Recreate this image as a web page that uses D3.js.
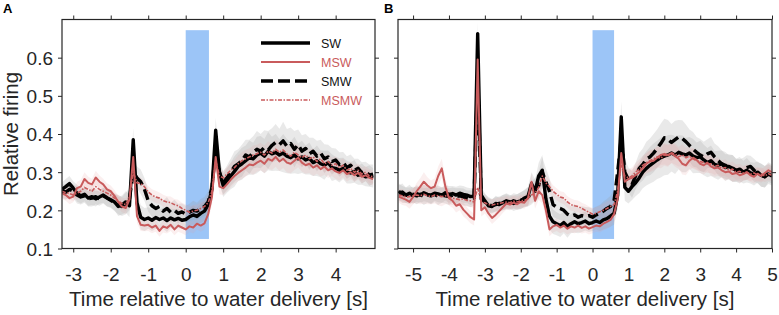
<!DOCTYPE html>
<html>
<head>
<meta charset="utf-8">
<script src="https://cdn.jsdelivr.net/npm/d3@7"></script>
<style>
  body { margin: 0; background: #fff; }
  text { font-family: "Liberation Sans", Arial, sans-serif; }
</style>
</head>
<body>
<svg id="chart"></svg>
<script>
let width = 779;
let height = 315;
let red = "#c95b5c";
let ink = "#262626";

// time grids (s), 0.1 s bins
let timeA = d3.range(-33, 51).map(d => d / 10);
let timeB = d3.range(-54, 51).map(d => d / 10);

let legendNames = ["SW", "MSW", "SMW", "MSMW"];
let ticksA = [-3, -2, -1, 0, 1, 2, 3, 4];
let ticksB = [-5, -4, -3, -2, -1, 0, 1, 2, 3, 4, 5];
let ticksY = [0.1, 0.2, 0.3, 0.4, 0.5, 0.6];
let waterA = [0, 0.62];
let waterB = [0, 0.6];
let waterY = [0.125, 0.672];

// panel A
let swA = [0.255, 0.262, 0.270, 0.258,
  0.245, 0.238, 0.242, 0.232, 0.236, 0.230, 0.235, 0.240, 0.233, 0.228,
  0.222, 0.210, 0.214, 0.222, 0.212, 0.385, 0.220, 0.182, 0.176, 0.180,
  0.174, 0.181, 0.176, 0.180, 0.173, 0.180, 0.175, 0.179, 0.174, 0.176,
  0.183, 0.188, 0.184, 0.192, 0.198, 0.215, 0.255, 0.410, 0.300, 0.265,
  0.278, 0.290, 0.302, 0.315, 0.322, 0.330, 0.338, 0.335, 0.345, 0.350,
  0.342, 0.355, 0.348, 0.352, 0.345, 0.350, 0.342, 0.338, 0.345, 0.335,
  0.340, 0.332, 0.336, 0.325, 0.330, 0.322, 0.318, 0.325, 0.312, 0.310,
  0.305, 0.310, 0.300, 0.298, 0.302, 0.292, 0.295, 0.288, 0.290, 0.285];
let smwA = [0.250, 0.248, 0.255, 0.250,
  0.240, 0.235, 0.238, 0.230, 0.232, 0.236, 0.230, 0.238, 0.232, 0.226,
  0.220, 0.215, 0.210, 0.218, 0.230, 0.300, 0.285, 0.275, 0.255, 0.225,
  0.212, 0.205, 0.210, 0.198, 0.205, 0.195, 0.200, 0.192, 0.196, 0.190,
  0.195, 0.200, 0.198, 0.205, 0.210, 0.222, 0.260, 0.360, 0.300, 0.272,
  0.285, 0.300, 0.315, 0.322, 0.330, 0.345, 0.340, 0.352, 0.360, 0.355,
  0.365, 0.358, 0.370, 0.378, 0.372, 0.382, 0.368, 0.375, 0.360, 0.372,
  0.355, 0.362, 0.348, 0.355, 0.342, 0.350, 0.335, 0.340, 0.328, 0.332,
  0.320, 0.325, 0.312, 0.318, 0.305, 0.310, 0.298, 0.302, 0.292, 0.295];
let mswA = [0.245, 0.240, 0.232, 0.236,
  0.258, 0.262, 0.282, 0.272, 0.268, 0.286, 0.275, 0.268, 0.255, 0.250,
  0.238, 0.222, 0.210, 0.206, 0.228, 0.340, 0.185, 0.162, 0.160, 0.162,
  0.155, 0.160, 0.146, 0.158, 0.154, 0.162, 0.150, 0.160, 0.155, 0.150,
  0.158, 0.155, 0.165, 0.160, 0.166, 0.190, 0.235, 0.340, 0.262, 0.258,
  0.268, 0.280, 0.290, 0.298, 0.305, 0.312, 0.320, 0.318, 0.325, 0.330,
  0.322, 0.335, 0.330, 0.340, 0.328, 0.335, 0.325, 0.322, 0.330, 0.338,
  0.325, 0.318, 0.322, 0.312, 0.318, 0.308, 0.315, 0.305, 0.310, 0.302,
  0.298, 0.305, 0.295, 0.300, 0.292, 0.298, 0.288, 0.292, 0.285, 0.282];
let msmwA = [0.250, 0.246, 0.244, 0.240,
  0.245, 0.250, 0.260, 0.255, 0.250, 0.262, 0.255, 0.250, 0.245, 0.240,
  0.232, 0.225, 0.218, 0.215, 0.235, 0.300, 0.272, 0.270, 0.262, 0.248,
  0.240, 0.235, 0.232, 0.225, 0.222, 0.220, 0.215, 0.212, 0.205, 0.200,
  0.195, 0.198, 0.200, 0.205, 0.210, 0.220, 0.250, 0.330, 0.290, 0.285,
  0.295, 0.305, 0.312, 0.322, 0.330, 0.335, 0.340, 0.345, 0.348, 0.352,
  0.345, 0.355, 0.350, 0.360, 0.352, 0.358, 0.348, 0.342, 0.352, 0.345,
  0.338, 0.345, 0.335, 0.340, 0.328, 0.335, 0.322, 0.328, 0.318, 0.322,
  0.312, 0.318, 0.305, 0.310, 0.300, 0.305, 0.295, 0.300, 0.290, 0.288];
let semGrayA = [0.018, 0.020, 0.020, 0.018,
  0.022, 0.020, 0.018, 0.020, 0.022, 0.020, 0.018, 0.020, 0.022, 0.020,
  0.022, 0.025, 0.025, 0.028, 0.030, 0.030, 0.030, 0.032, 0.030, 0.028,
  0.028, 0.030, 0.025, 0.028, 0.030, 0.025, 0.028, 0.025, 0.022, 0.022,
  0.022, 0.025, 0.022, 0.025, 0.025, 0.028, 0.030, 0.032, 0.030, 0.030,
  0.032, 0.035, 0.040, 0.038, 0.042, 0.040, 0.045, 0.042, 0.048, 0.045,
  0.045, 0.050, 0.045, 0.048, 0.042, 0.050, 0.045, 0.042, 0.048, 0.040,
  0.042, 0.038, 0.042, 0.035, 0.040, 0.035, 0.038, 0.032, 0.035, 0.030,
  0.032, 0.028, 0.030, 0.028, 0.030, 0.025, 0.028, 0.025, 0.028, 0.025];
let semPinkA = [0.015, 0.015, 0.016, 0.015,
  0.016, 0.018, 0.018, 0.016, 0.015, 0.018, 0.016, 0.015, 0.016, 0.015,
  0.015, 0.016, 0.015, 0.016, 0.018, 0.020, 0.018, 0.016, 0.015, 0.016,
  0.015, 0.016, 0.015, 0.016, 0.015, 0.016, 0.015, 0.016, 0.015, 0.015,
  0.015, 0.016, 0.015, 0.016, 0.016, 0.018, 0.020, 0.022, 0.020, 0.018,
  0.018, 0.020, 0.020, 0.022, 0.022, 0.024, 0.022, 0.025, 0.024, 0.025,
  0.025, 0.026, 0.024, 0.026, 0.025, 0.024, 0.026, 0.025, 0.024, 0.025,
  0.024, 0.022, 0.024, 0.022, 0.022, 0.020, 0.022, 0.020, 0.020, 0.020,
  0.020, 0.018, 0.020, 0.018, 0.018, 0.018, 0.018, 0.016, 0.018, 0.016];

// panel B
let swB = [0.250, 0.242, 0.240, 0.245, 0.238,
  0.244, 0.240, 0.246, 0.242, 0.240, 0.245, 0.243, 0.240, 0.246, 0.242,
  0.244, 0.240, 0.245, 0.242, 0.240, 0.236, 0.238, 0.663, 0.240, 0.225,
  0.212, 0.210, 0.218, 0.215, 0.220, 0.225, 0.222, 0.218, 0.222, 0.225,
  0.232, 0.236, 0.270, 0.250, 0.290, 0.305, 0.230, 0.185, 0.170, 0.165,
  0.160, 0.168, 0.158, 0.165, 0.170, 0.165, 0.168, 0.172, 0.165, 0.168,
  0.172, 0.168, 0.175, 0.178, 0.185, 0.192, 0.240, 0.445, 0.260, 0.250,
  0.262, 0.272, 0.285, 0.300, 0.310, 0.318, 0.325, 0.332, 0.338, 0.342,
  0.345, 0.350, 0.345, 0.352, 0.348, 0.345, 0.350, 0.342, 0.338, 0.340,
  0.332, 0.325, 0.330, 0.320, 0.318, 0.322, 0.312, 0.315, 0.310, 0.305,
  0.308, 0.300, 0.305, 0.298, 0.295, 0.300, 0.292, 0.288, 0.295, 0.290];
let smwB = [0.245, 0.248, 0.240, 0.238, 0.242,
  0.238, 0.242, 0.236, 0.240, 0.238, 0.242, 0.236, 0.240, 0.238, 0.236,
  0.240, 0.236, 0.238, 0.235, 0.232, 0.230, 0.232, 0.550, 0.230, 0.222,
  0.215, 0.212, 0.215, 0.218, 0.220, 0.222, 0.220, 0.225, 0.222, 0.226,
  0.230, 0.235, 0.245, 0.255, 0.265, 0.300, 0.275, 0.250, 0.215, 0.208,
  0.205, 0.200, 0.190, 0.185, 0.188, 0.182, 0.186, 0.184, 0.186, 0.182,
  0.188, 0.192, 0.198, 0.205, 0.210, 0.225, 0.300, 0.390, 0.300, 0.280,
  0.268, 0.290, 0.310, 0.320, 0.335, 0.340, 0.350, 0.362, 0.375, 0.390,
  0.385, 0.378, 0.385, 0.392, 0.388, 0.380, 0.370, 0.360, 0.352, 0.345,
  0.340, 0.348, 0.352, 0.340, 0.330, 0.322, 0.318, 0.312, 0.310, 0.305,
  0.302, 0.308, 0.312, 0.315, 0.305, 0.298, 0.292, 0.288, 0.300, 0.295];
let mswB = [0.236, 0.232, 0.228, 0.222, 0.235,
  0.250, 0.262, 0.275, 0.265, 0.258, 0.262, 0.290, 0.310, 0.262, 0.232,
  0.225, 0.212, 0.216, 0.202, 0.192, 0.182, 0.176, 0.595, 0.200, 0.208,
  0.192, 0.180, 0.188, 0.198, 0.208, 0.218, 0.215, 0.220, 0.216, 0.222,
  0.220, 0.232, 0.275, 0.225, 0.250, 0.240, 0.200, 0.150, 0.158, 0.162,
  0.155, 0.160, 0.152, 0.158, 0.155, 0.160, 0.154, 0.158, 0.152, 0.156,
  0.160, 0.158, 0.165, 0.170, 0.175, 0.190, 0.230, 0.350, 0.275, 0.282,
  0.285, 0.292, 0.300, 0.310, 0.322, 0.328, 0.330, 0.338, 0.345, 0.348,
  0.345, 0.350, 0.342, 0.335, 0.322, 0.318, 0.330, 0.338, 0.332, 0.322,
  0.318, 0.325, 0.315, 0.310, 0.312, 0.305, 0.300, 0.302, 0.295, 0.298,
  0.292, 0.295, 0.300, 0.292, 0.288, 0.296, 0.290, 0.298, 0.305, 0.300];
let msmwB = [0.240, 0.238, 0.235, 0.236, 0.238,
  0.240, 0.238, 0.242, 0.238, 0.236, 0.240, 0.238, 0.236, 0.238, 0.235,
  0.232, 0.230, 0.228, 0.230, 0.226, 0.225, 0.222, 0.260, 0.222, 0.220,
  0.215, 0.214, 0.216, 0.218, 0.220, 0.222, 0.220, 0.224, 0.222, 0.225,
  0.226, 0.230, 0.240, 0.245, 0.260, 0.290, 0.272, 0.262, 0.250, 0.242,
  0.235, 0.232, 0.222, 0.215, 0.212, 0.210, 0.205, 0.200, 0.195, 0.190,
  0.192, 0.196, 0.200, 0.205, 0.210, 0.215, 0.250, 0.320, 0.290, 0.285,
  0.290, 0.300, 0.308, 0.318, 0.325, 0.330, 0.335, 0.340, 0.336, 0.345,
  0.342, 0.350, 0.348, 0.340, 0.345, 0.338, 0.342, 0.335, 0.330, 0.328,
  0.325, 0.320, 0.322, 0.315, 0.318, 0.310, 0.312, 0.305, 0.308, 0.300,
  0.302, 0.298, 0.300, 0.295, 0.298, 0.292, 0.295, 0.290, 0.296, 0.292];
let semGrayB = [0.020, 0.022, 0.020, 0.022, 0.020,
  0.022, 0.020, 0.022, 0.020, 0.022, 0.020, 0.022, 0.020, 0.020, 0.022,
  0.020, 0.022, 0.020, 0.022, 0.020, 0.022, 0.020, 0.030, 0.022, 0.020,
  0.020, 0.018, 0.020, 0.018, 0.020, 0.020, 0.018, 0.020, 0.020, 0.022,
  0.022, 0.025, 0.030, 0.030, 0.035, 0.040, 0.035, 0.035, 0.032, 0.030,
  0.030, 0.028, 0.030, 0.025, 0.028, 0.025, 0.025, 0.025, 0.022, 0.022,
  0.022, 0.022, 0.025, 0.025, 0.028, 0.030, 0.035, 0.040, 0.035, 0.032,
  0.035, 0.035, 0.040, 0.042, 0.045, 0.048, 0.050, 0.050, 0.052, 0.050,
  0.052, 0.048, 0.050, 0.045, 0.048, 0.045, 0.042, 0.045, 0.040, 0.042,
  0.040, 0.038, 0.040, 0.035, 0.038, 0.035, 0.035, 0.032, 0.035, 0.030,
  0.032, 0.030, 0.032, 0.028, 0.030, 0.028, 0.030, 0.028, 0.026, 0.025];
let semPinkB = [0.016, 0.018, 0.016, 0.018, 0.020,
  0.022, 0.022, 0.025, 0.022, 0.020, 0.022, 0.025, 0.025, 0.022, 0.020,
  0.018, 0.018, 0.016, 0.018, 0.016, 0.016, 0.016, 0.020, 0.016, 0.016,
  0.015, 0.016, 0.015, 0.016, 0.015, 0.016, 0.015, 0.016, 0.015, 0.016,
  0.016, 0.018, 0.020, 0.020, 0.022, 0.022, 0.020, 0.018, 0.016, 0.016,
  0.015, 0.016, 0.015, 0.016, 0.015, 0.016, 0.015, 0.016, 0.015, 0.016,
  0.016, 0.016, 0.018, 0.018, 0.018, 0.020, 0.022, 0.025, 0.022, 0.022,
  0.022, 0.024, 0.025, 0.025, 0.026, 0.028, 0.026, 0.028, 0.026, 0.028,
  0.028, 0.026, 0.028, 0.026, 0.028, 0.026, 0.025, 0.026, 0.025, 0.024,
  0.024, 0.022, 0.024, 0.022, 0.022, 0.020, 0.022, 0.020, 0.020, 0.020,
  0.020, 0.018, 0.020, 0.018, 0.018, 0.018, 0.018, 0.016, 0.018, 0.016];

let styles = {
  SW:   { color: "#000", width: 3.4, dash: null },
  MSW:  { color: red, width: 2, dash: null },
  SMW:  { color: "#000", width: 3.4, dash: "11,5" },
  MSMW: { color: red, width: 1.6, dash: "4,1.5,1.5,1.5" }
};

let yax = d3.scaleLinear()
  .domain([0.1, 0.7])
  .range([248.5, 19.5]);

let svg = d3.select("#chart")
  .attr("width", width)
  .attr("height", height);

drawPanel({
  id: "A", label: "A", labelX: 3, time: timeA,
  domain: [-3.3, 5.05], range: [62, 375], ticks: ticksA, water: waterA, yLabels: true,
  series: { SW: swA, MSW: mswA, SMW: smwA, MSMW: msmwA },
  gray: semGrayA, pink: semPinkA
});
drawPanel({
  id: "B", label: "B", labelX: 384, time: timeB,
  domain: [-5.42, 5.0], range: [398, 772], ticks: ticksB, water: waterB, yLabels: false,
  series: { SW: swB, MSW: mswB, SMW: smwB, MSMW: msmwB },
  gray: semGrayB, pink: semPinkB
});
drawLegend();

function drawPanel(p) {
  let xax = d3.scaleLinear().domain(p.domain).range(p.range);
  let g = svg.append("g");
  let [x0, x1] = p.range;
  let [yb, yt] = yax.range();

  g.append("defs").append("clipPath")
    .attr("id", "clip" + p.id)
    .append("rect")
    .attr("x", x0).attr("y", yt)
    .attr("width", x1 - x0).attr("height", yb - yt);

  let plot = g.append("g").attr("clip-path", `url(#clip${p.id})`);

  // water delivery window
  plot.append("rect")
    .attr("x", xax(p.water[0]))
    .attr("width", xax(p.water[1]) - xax(p.water[0]))
    .attr("y", yax(waterY[1]))
    .attr("height", yax(waterY[0]) - yax(waterY[1]))
    .attr("fill", "#9cc5f7");

  // sem bands
  let bandOf = (vals, sem) => d3.area()
    .x((d, i) => xax(p.time[i]))
    .y0((d, i) => yax(d - sem[i]))
    .y1((d, i) => yax(d + sem[i]))(vals);

  ["SW", "SMW"].forEach(k => {
    plot.append("path")
      .attr("d", bandOf(p.series[k], p.gray))
      .attr("fill", "#9a9a9a")
      .attr("fill-opacity", 0.22);
  });
  ["MSW", "MSMW"].forEach(k => {
    plot.append("path")
      .attr("d", bandOf(p.series[k], p.pink))
      .attr("fill", "#e59a9a")
      .attr("fill-opacity", 0.16);
  });

  let line = d3.line()
    .x((d, i) => xax(p.time[i]))
    .y(d => yax(d));

  ["SW", "SMW", "MSW", "MSMW"].forEach(k => {
    let s = styles[k];
    plot.append("path")
      .attr("d", line(p.series[k]))
      .attr("fill", "none")
      .attr("stroke", s.color)
      .attr("stroke-width", s.width)
      .attr("stroke-dasharray", s.dash)
      .attr("stroke-linejoin", "round");
  });

  // axes, MATLAB style box with outward ticks
  let fmt = d => String(d);
  let bottom = g.append("g")
    .attr("transform", `translate(0, ${yb})`)
    .call(d3.axisBottom(xax).tickValues(p.ticks).tickSize(4).tickPadding(15).tickFormat(fmt));
  g.append("g")
    .attr("transform", `translate(0, ${yt})`)
    .call(d3.axisTop(xax).tickValues(p.ticks).tickSize(4).tickFormat(""));
  let left = g.append("g")
    .attr("transform", `translate(${x0}, 0)`)
    .call(d3.axisLeft(yax).tickValues(ticksY).tickSize(4).tickPadding(5)
      .tickFormat(p.yLabels ? d3.format(".1f") : ""));
  g.append("g")
    .attr("transform", `translate(${x1}, 0)`)
    .call(d3.axisRight(yax).tickValues(ticksY.slice(1)).tickSize(4).tickFormat(""));

  g.selectAll(".domain").remove();
  g.selectAll(".tick line").attr("stroke", ink);
  g.selectAll(".tick text")
    .attr("fill", ink)
    .attr("font-size", 19)
    .attr("font-family", "Liberation Sans, Arial, sans-serif");
  left.selectAll(".tick text").attr("dy", "0.36em");

  g.append("rect")
    .attr("x", x0).attr("y", yt)
    .attr("width", x1 - x0).attr("height", yb - yt)
    .attr("fill", "none")
    .attr("stroke", ink)
    .attr("stroke-width", 1.2);

  g.append("text")
    .text("Time relative to water delivery [s]")
    .attr("x", (x0 + x1) / 2)
    .attr("y", 306)
    .attr("text-anchor", "middle")
    .attr("font-size", 20.5)
    .attr("fill", ink);

  g.append("text")
    .text(p.label)
    .attr("x", p.labelX)
    .attr("y", 13)
    .attr("font-size", 13)
    .attr("font-weight", "bold")
    .attr("fill", "#000");

  if (p.yLabels) {
    g.append("text")
      .text("Relative firing")
      .attr("transform", `translate(18, ${(yb + yt) / 2}) rotate(-90)`)
      .attr("text-anchor", "middle")
      .attr("font-size", 20.5)
      .attr("fill", ink);
  }
}

function drawLegend() {
  let lg = svg.append("g");
  let rowY = d3.scalePoint().domain(legendNames).range([43, 100]);
  legendNames.forEach(k => {
    let s = styles[k];
    lg.append("line")
      .attr("x1", 261).attr("x2", 310)
      .attr("y1", rowY(k)).attr("y2", rowY(k))
      .attr("stroke", s.color)
      .attr("stroke-width", s.width)
      .attr("stroke-dasharray", k == "SMW" ? "12,5" : s.dash);
    lg.append("text")
      .text(k)
      .attr("x", 321)
      .attr("y", rowY(k) + 4.5)
      .attr("font-size", 12.5)
      .attr("fill", s.color == red ? red : "#111");
  });
}
</script>
</body>
</html>
